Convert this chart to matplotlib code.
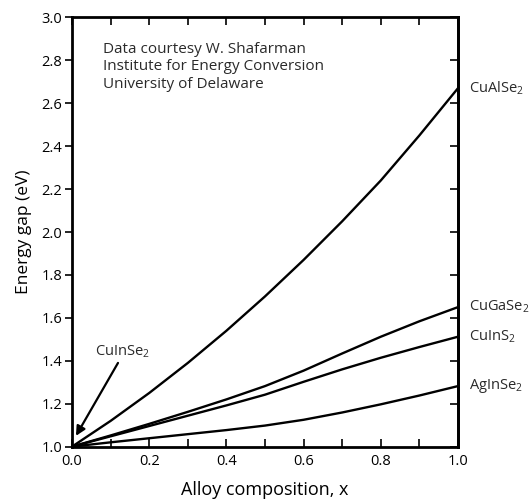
import matplotlib.pyplot as plt
from matplotlib.ticker import MultipleLocator

# Alloy composition x and band gaps (eV)
x = [0.0, 0.1, 0.2, 0.3, 0.4, 0.5, 0.6, 0.7, 0.8, 0.9, 1.0]
cualse2 = [1.00, 1.12, 1.25, 1.39, 1.54, 1.70, 1.87, 2.05, 2.24, 2.45, 2.67]
cugase2 = [1.00, 1.052, 1.106, 1.162, 1.22, 1.282, 1.354, 1.434, 1.512, 1.584, 1.65]
cuins2 = [1.00, 1.048, 1.096, 1.144, 1.192, 1.242, 1.302, 1.36, 1.414, 1.464, 1.512]
aginse2 = [1.00, 1.02, 1.039, 1.058, 1.077, 1.098, 1.125, 1.159, 1.197, 1.238, 1.282]

series = [cualse2, cugase2, cuins2, aginse2]
end_labels = [r'CuAlSe$_2$', r'CuGaSe$_2$', r'CuInS$_2$', r'AgInSe$_2$']

plt.rcParams['font.family'] = ['Open Sans', 'DejaVu Sans']
plt.rcParams['mathtext.default'] = 'regular'

fig = plt.figure(figsize=(5.30, 4.99), dpi=100)
ax = fig.add_axes([0.136, 0.105, 0.728, 0.860])

for vals in series:
    ax.plot(x, vals, color='black', lw=1.7, solid_joinstyle='round')

# labels at the right-hand end of each curve
for vals, lab in zip(series, end_labels):
    ax.annotate(lab, xy=(1.0, vals[-1]), xytext=(8, 0), textcoords='offset points',
                ha='left', va='center', fontsize=10.5, color='#2a2a2a',
                annotation_clip=False)

# CuInSe2 end-member arrow
ax.text(0.13, 1.44, r'CuInSe$_2$', ha='center', va='center', fontsize=10.5, color='#2a2a2a')
ax.annotate('', xy=(0.010, 1.05), xytext=(0.119, 1.39),
            arrowprops=dict(arrowstyle='-|>', color='black', lw=1.6,
                            mutation_scale=14, shrinkA=0, shrinkB=0))

ax.text(0.08, 2.885, 'Data courtesy W. Shafarman\nInstitute for Energy Conversion\nUniversity of Delaware',
        ha='left', va='top', fontsize=11, color='#2a2a2a', linespacing=1.2)

ax.set_xlim(0, 1.0)
ax.set_ylim(1.0, 3.0)
ax.xaxis.set_major_locator(MultipleLocator(0.2))
ax.xaxis.set_minor_locator(MultipleLocator(0.1))
ax.yaxis.set_major_locator(MultipleLocator(0.2))

ax.tick_params(axis='x', which='both', direction='in', top=True, bottom=True,
               width=1.2, length=6, labelsize=10.5, pad=5)
ax.tick_params(axis='y', direction='out', left=True, right=False,
               length=5, width=1.2, labelsize=10.5, pad=2)

sec = ax.secondary_yaxis('right')
sec.yaxis.set_major_locator(MultipleLocator(0.2))
sec.tick_params(axis='y', direction='in', length=6, width=1.2, labelright=False)

for sp in ax.spines.values():
    sp.set_linewidth(2.0)
sec.spines['right'].set_linewidth(2.0)

ax.set_xlabel('Alloy composition, x', fontsize=13, labelpad=9)
ax.set_ylabel('Energy gap (eV)', fontsize=12.5, labelpad=7)

fig.savefig('out.png', dpi=100)
